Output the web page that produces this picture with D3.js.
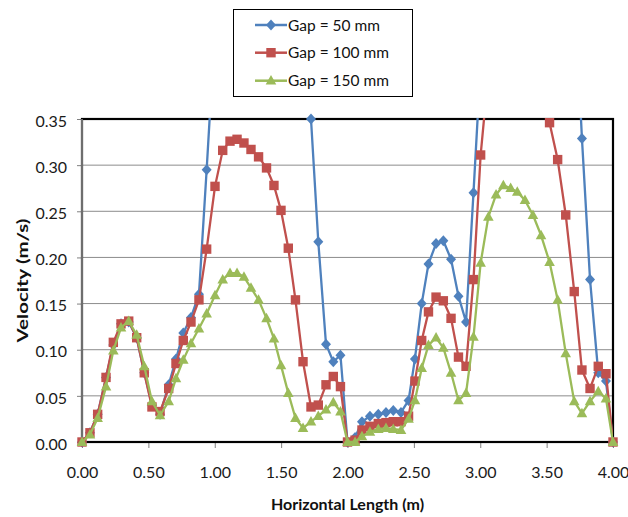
<!DOCTYPE html>
<html>
<head>
<meta charset="utf-8">
<script src="https://cdn.jsdelivr.net/npm/d3@7"></script>
<style>
  body { margin: 0; background: #fff; }
  svg { display: block; font-family: Lato, "Open Sans", sans-serif; }
</style>
</head>
<body>
<div id="chart"></div>
<script>
// horizontal positions (m), shared by the three series
var xs = [0.000,0.060,0.118,0.181,0.236,0.294,0.352,0.412,0.469,0.527,
          0.588,0.653,0.708,0.763,0.821,0.881,0.939,1.002,1.060,1.115,
          1.168,1.220,1.273,1.330,1.390,1.446,1.499,1.554,1.608,1.665,
          1.725,1.780,1.838,1.893,1.947,2.000,2.057,2.109,2.169,2.232,
          2.290,2.345,2.403,2.460,2.508,2.559,2.610,2.667,2.722,2.780,
          2.836,2.893,2.949,3.003,3.061,3.119,3.174,3.229,3.279,3.337,
          3.397,3.458,3.522,3.583,3.644,3.708,3.766,3.827,3.889,3.947,
          4.000];

// velocities (m/s) -- values above 0.35 run off the top of the chart
var gap50 = [0, 0.010, 0.030, 0.070, 0.105, 0.128, 0.130, 0.113, 0.075, 0.040,
             0.030, 0.062, 0.090, 0.118, 0.135, 0.160, 0.295, 0.450, 0.520, 0.560,
             0.580, 0.590, 0.590, 0.580, 0.570, 0.550, 0.520, 0.480, 0.440, 0.420,
             0.350, 0.217, 0.106, 0.087, 0.094, 0, 0.005, 0.022, 0.028, 0.030,
             0.032, 0.034, 0.032, 0.045, 0.090, 0.150, 0.193, 0.215, 0.218, 0.198,
             0.158, 0.130, 0.270, 0.410, 0.480, 0.540, 0.580, 0.600, 0.610, 0.610,
             0.600, 0.590, 0.570, 0.550, 0.520, 0.500, 0.329, 0.176, 0.075, 0.066,
             0];
var gap100 = [0, 0.010, 0.030, 0.070, 0.108, 0.128, 0.131, 0.113, 0.075, 0.038,
              0.033, 0.058, 0.085, 0.110, 0.130, 0.154, 0.209, 0.277, 0.316, 0.326,
              0.328, 0.324, 0.317, 0.309, 0.297, 0.278, 0.251, 0.210, 0.154, 0.087,
              0.038, 0.040, 0.062, 0.071, 0.060, 0, 0.002, 0.013, 0.017, 0.020,
              0.021, 0.022, 0.022, 0.028, 0.066, 0.110, 0.141, 0.157, 0.153, 0.134,
              0.092, 0.082, 0.176, 0.311, 0.400, 0.450, 0.480, 0.500, 0.500, 0.490,
              0.470, 0.420, 0.346, 0.306, 0.246, 0.163, 0.078, 0.058, 0.082, 0.074,
              0];
var gap150 = [0, 0.008, 0.026, 0.060, 0.099, 0.124, 0.131, 0.116, 0.082, 0.044,
              0.029, 0.044, 0.069, 0.089, 0.107, 0.123, 0.139, 0.159, 0.176, 0.183,
              0.183, 0.179, 0.167, 0.154, 0.134, 0.112, 0.083, 0.053, 0.026, 0.015,
              0.022, 0.028, 0.035, 0.043, 0.033, 0, 0, 0.006, 0.011, 0.014,
              0.015, 0.014, 0.013, 0.025, 0.045, 0.080, 0.105, 0.113, 0.102, 0.075,
              0.045, 0.053, 0.114, 0.194, 0.244, 0.268, 0.278, 0.275, 0.271, 0.262,
              0.246, 0.224, 0.195, 0.154, 0.096, 0.044, 0.031, 0.044, 0.055, 0.047,
              0];

var seriesNames = ["Gap = 50 mm", "Gap = 100 mm", "Gap = 150 mm"];
var seriesColors = ["#4F81BD", "#C0504D", "#9BBB59"];
var yTicks = [0, 0.05, 0.10, 0.15, 0.20, 0.25, 0.30, 0.35];
var xTicks = [0, 0.5, 1.0, 1.5, 2.0, 2.5, 3.0, 3.5, 4.0];

var W = 628, H = 517;
var plotL = 82, plotR = 613, plotT = 119, plotB = 442;

var x = d3.scaleLinear().domain([0, 4]).range([plotL, plotR]);
var y = d3.scaleLinear().domain([0, 0.35]).range([plotB, plotT]);

var svg = d3.select("#chart").append("svg").attr("width", W).attr("height", H);

// marker shapes
var shapes = [
  "M0,-5.5L5,0L0,5.5L-5,0Z",          // diamond
  "M-4.7,-4.7H4.7V4.7H-4.7Z",         // square
  "M0,-5.6L5.3,3.9L-5.3,3.9Z"         // triangle
];

svg.append("clipPath").attr("id", "plotclip")
  .append("rect").attr("x", plotL).attr("y", plotT - 1)
  .attr("width", plotR - plotL).attr("height", plotB - plotT + 2);

// gridlines
svg.append("g").selectAll("line")
  .data(yTicks.filter(function(d) { return d > 0 && d < 0.35; }))
  .enter().append("line")
  .attr("x1", plotL).attr("x2", plotR)
  .attr("y1", function(d) { return y(d); }).attr("y2", function(d) { return y(d); })
  .attr("stroke", "#8c8c8c").attr("stroke-width", 1);

// axes
var yAxis = svg.append("g").attr("transform", "translate(" + plotL + ",0)")
  .call(d3.axisLeft(y).tickValues(yTicks).tickSize(5).tickPadding(10).tickFormat(d3.format(".2f")));
yAxis.select(".domain").remove();
yAxis.selectAll(".tick line").attr("stroke", "#808080");
yAxis.selectAll("text").attr("font-size", 16).attr("fill", "#1a1a1a")
  .attr("font-family", "Lato").attr("dy", "0.45em");

var xAxis = svg.append("g").attr("transform", "translate(0," + plotB + ")")
  .call(d3.axisBottom(x).tickValues(xTicks).tickSize(6).tickFormat(d3.format(".2f")));
xAxis.select(".domain").remove();
xAxis.selectAll(".tick line").attr("stroke", "#808080");
xAxis.selectAll("text").attr("font-size", 16).attr("fill", "#1a1a1a")
  .attr("font-family", "Lato").attr("dy", null).attr("y", 36);

// plot frame
svg.append("rect").attr("x", plotL).attr("y", plotT)
  .attr("width", plotR - plotL).attr("height", plotB - plotT)
  .attr("fill", "none").attr("stroke", "#000").attr("stroke-width", 2.2);
svg.append("line").attr("x1", plotL).attr("x2", plotL).attr("y1", plotT).attr("y2", plotB)
  .attr("stroke", "#6e6e6e").attr("stroke-width", 2);

// series
var series = [gap50, gap100, gap150];
var line = d3.line()
  .x(function(d) { return x(d[0]); })
  .y(function(d) { return y(d[1]); });

series.forEach(function(vals, k) {
  var pts = xs.map(function(xv, i) { return [xv, vals[i]]; });
  var g = svg.append("g");
  g.append("path").datum(pts)
    .attr("clip-path", "url(#plotclip)")
    .attr("fill", "none").attr("stroke", seriesColors[k])
    .attr("stroke-width", 2.3).attr("stroke-linejoin", "round")
    .attr("d", line);
  g.selectAll("path.mk")
    .data(pts.filter(function(p) { return p[1] <= 0.351; }))
    .enter().append("path").attr("class", "mk")
    .attr("transform", function(p) { return "translate(" + x(p[0]) + "," + y(p[1]) + ")"; })
    .attr("d", shapes[k])
    .attr("fill", seriesColors[k]);
});

// axis titles
svg.append("text")
  .attr("x", (plotL + plotR) / 2).attr("y", 510)
  .attr("text-anchor", "middle")
  .attr("font-size", 16).attr("font-weight", "bold").attr("fill", "#111")
  .text("Horizontal Length (m)");

svg.append("text")
  .attr("transform", "translate(28," + ((plotT + plotB) / 2) + ") rotate(-90)")
  .attr("text-anchor", "middle")
  .attr("font-size", 16).attr("font-weight", "bold").attr("fill", "#111")
  .attr("textLength", 124).attr("lengthAdjust", "spacingAndGlyphs")
  .text("Velocity (m/s)");

// legend
var lg = svg.append("g");
lg.append("rect").attr("x", 233.5).attr("y", 9.5).attr("width", 179).attr("height", 87)
  .attr("fill", "#fff").attr("stroke", "#000").attr("stroke-width", 1);
var legY = [25, 52.7, 80.7];
seriesNames.forEach(function(name, k) {
  lg.append("line").attr("x1", 255).attr("x2", 287)
    .attr("y1", legY[k]).attr("y2", legY[k])
    .attr("stroke", seriesColors[k]).attr("stroke-width", 2.5);
  lg.append("path").attr("transform", "translate(271," + legY[k] + ")")
    .attr("d", shapes[k]).attr("fill", seriesColors[k]);
  lg.append("text").attr("x", 288).attr("y", legY[k] + 5.5)
    .attr("font-size", 15.5).attr("fill", "#111")
    .text(name);
});
</script>
</body>
</html>
